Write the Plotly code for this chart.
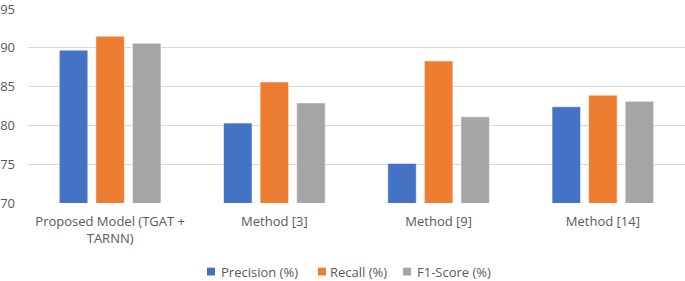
import plotly.graph_objects as go

categories = ["Proposed Model (TGAT +<br>TARNN)", "Method [3]", "Method [9]", "Method [14]"]
series_names = ["Precision (%)", "Recall (%)", "F1-Score (%)"]
precision = [89.7, 80.3, 75.1, 82.4]
recall = [91.5, 85.6, 88.3, 83.9]
f1_score = [90.6, 82.9, 81.1, 83.1]
y_ticks = [70, 75, 80, 85, 90, 95]

colors = ["#4472C4", "#ED7D31", "#A5A5A5"]
series_values = [precision, recall, f1_score]

W, H = 685, 281
L, R, T, B = 28, 0, 5, 78
font_family = "Open Sans"
text_color = "#595959"

fig = go.Figure()
for name, vals, col in zip(series_names, series_values, colors):
    fig.add_trace(go.Bar(
        x=categories, y=vals, name=name,
        marker=dict(color=col, line=dict(color="rgba(255,255,255,0.55)", width=1)),
        showlegend=False,
    ))

# custom legend (square + label), centred under the chart
pw = W - L - R
ph = H - T - B
legend_px = [(207, 219), (318, 328), (403, 415)]
legend_y_px = 273
sq = 8
for (sx, tx), name, col in zip(legend_px, series_names, colors):
    x0 = (sx - L) / pw
    x1 = (sx + sq - L) / pw
    y0 = (H - B - (legend_y_px + sq / 2)) / ph
    y1 = (H - B - (legend_y_px - sq / 2)) / ph
    fig.add_shape(type="rect", xref="paper", yref="paper", x0=x0, x1=x1, y0=y0, y1=y1,
                  fillcolor=col, line=dict(width=0))
    fig.add_annotation(xref="paper", yref="paper", x=(tx - L) / pw,
                       y=(H - B - legend_y_px) / ph, text=name, showarrow=False,
                       xanchor="left", yanchor="middle",
                       font=dict(family=font_family, size=13, color=text_color))

fig.update_layout(
    width=W, height=H,
    margin=dict(l=L, r=R, t=T, b=B),
    paper_bgcolor="white", plot_bgcolor="white",
    barmode="group", bargap=0.332, bargroupgap=0.22,
    font=dict(family=font_family, size=13, color=text_color),
)
fig.update_xaxes(showline=False, ticks="", tickfont=dict(size=13, color=text_color),
                 ticklabelstandoff=9, showgrid=False)
fig.update_yaxes(range=[70, 95], tickvals=y_ticks, showgrid=True, gridcolor="#D9D9D9",
                 gridwidth=1, zeroline=False, showline=False, ticks="",
                 tickfont=dict(size=13, color=text_color), ticklabelstandoff=12,
                 ticklabeloverflow="allow")

fig.write_html("out.html", config={"displayModeBar": False},
               post_script="document.body.style.margin='0';")
